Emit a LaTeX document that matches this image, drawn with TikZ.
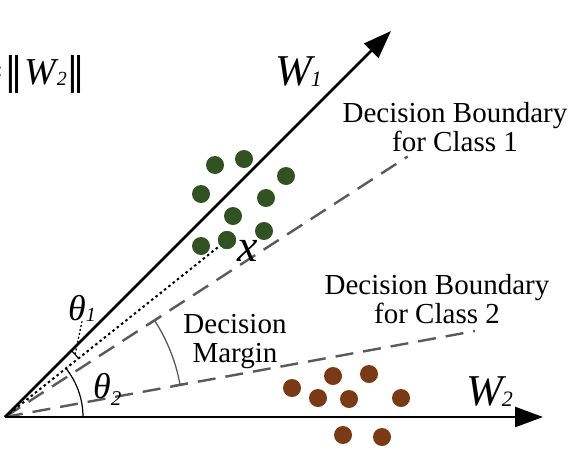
\documentclass[tikz,border=0pt]{standalone}
\usepackage{fontspec}
\setmainfont{Liberation Serif}
\newfontfamily\dvsfont{DejaVu Serif}
\usetikzlibrary{arrows.meta,calc}
\definecolor{dotgreen}{RGB}{50,82,35}
\definecolor{dotbrown}{RGB}{122,58,22}
\definecolor{dashgray}{RGB}{90,90,90}
\newcommand\fsz[2]{\fontsize{#1}{#2}\selectfont}
\begin{document}
\begin{tikzpicture}[x=1pt,y=1pt,
  axis/.style={line width=2.6pt,-{Triangle[length=28pt,width=20pt]}},
  bound/.style={dashgray,line width=2.4pt,dash pattern=on 18pt off 10pt},
  dotln/.style={line width=2pt,dash pattern=on 2.5pt off 3pt},
  gdot/.style={circle,fill=dotgreen,minimum size=18pt,inner sep=0pt},
  bdot/.style={circle,fill=dotbrown,minimum size=18pt,inner sep=0pt},
  lbl/.style={inner sep=0pt,align=center},
  ang/.style={line width=1.2pt},
  marg/.style={dashgray,line width=1.3pt,{Bar[width=15pt]}-{Bar[width=15pt]}}]
\useasboundingbox (0,0) rectangle (588,-453);
\coordinate (O) at (5,-417);
\coordinate (W1tip) at (391,-31);
\coordinate (W2tip) at (543,-417);
\coordinate (B1end) at ($(O)+(32.9:479.6)$);
\coordinate (B2end) at ($(O)+(10.37:477.8)$);
% boundaries
\draw[bound] (O) -- (B1end);
\draw[bound] (O) -- (B2end);
% dots
\node[gdot] (g1) at (215,-165) {};
\node[gdot] (g2) at (244,-159) {};
\node[gdot] (g3) at (286,-176) {};
\node[gdot] (g4) at (201,-194) {};
\node[gdot] (g5) at (266,-198) {};
\node[gdot] (g6) at (233,-216) {};
\node[gdot] (g7) at (264,-231) {};
\node[gdot] (g8) at (201,-246) {};
\node[gdot] (gx) at (227,-240) {};
\node[bdot] (b1) at (292,-388) {};
\node[bdot] (b2) at (333,-376) {};
\node[bdot] (b3) at (369,-374) {};
\node[bdot] (b4) at (318,-398) {};
\node[bdot] (b5) at (349,-399) {};
\node[bdot] (b6) at (401,-398) {};
\node[bdot] (b7) at (343,-435) {};
\node[bdot] (b8) at (382,-437) {};
\draw[dotln] (O) -- (gx.center);
\node[gdot] at (gx) {};
% axes
\draw[axis] (O) -- (W1tip);
\draw[axis] (O) -- (W2tip);
% angle arcs
\draw[ang] ($(O)+(0:78)$) arc[start angle=0,end angle=38.56,radius=78];
\draw[ang] ($(O)+(38.56:94)$) arc[start angle=38.56,end angle=45,radius=94];
\draw[marg] ($(O)+(10.37:178)$) arc[start angle=10.37,end angle=32.9,radius=178];
% labels
\node[lbl,anchor=base west] (w1lab) at (275,-85) {\fsz{44}{44}\itshape W\kern-1pt\raisebox{-1pt}{\fsz{22}{22}1}};
\node[lbl,anchor=base west] (w2lab) at (466,-405) {\fsz{44}{44}\itshape W\kern-1pt\raisebox{-1pt}{\fsz{22}{22}2}};
\node[lbl,anchor=base west] (xlab) at (237,-261) {\fsz{46}{46}\itshape x};
\node[lbl,anchor=base west] (t1lab) at (68,-320) {\fsz{36}{36}\itshape θ\raisebox{-1pt}{\fsz{20}{20}1}};
\node[lbl,anchor=base west] (t2lab) at (93,-398) {\fsz{36}{36}\itshape θ\raisebox{-7pt}{\fsz{21}{21}2}};
\draw[line width=1.3pt,dash pattern=on 2pt off 2pt] ($(O)+(41.8:94)$) -- (t1lab.south);
\node[lbl,font=\fsz{29}{29}] (db1) at (455,-127) {Decision Boundary\\for Class 1};
\node[lbl,font=\fsz{29}{29}] (db2) at (437,-299) {Decision Boundary\\for Class 2};
\node[lbl,font=\fsz{29}{29}] (dm) at (235,-342) {Decision\\Margin};
\node[lbl,anchor=base east] (norm) at (86,-84) {\fsz{38}{38}=\kern1pt{\dvsfont ‖}\kern1pt\textit{W}\kern-2pt\raisebox{-1pt}{\fsz{20}{20}\itshape 2}{\dvsfont ‖}};
\end{tikzpicture}
\end{document}
